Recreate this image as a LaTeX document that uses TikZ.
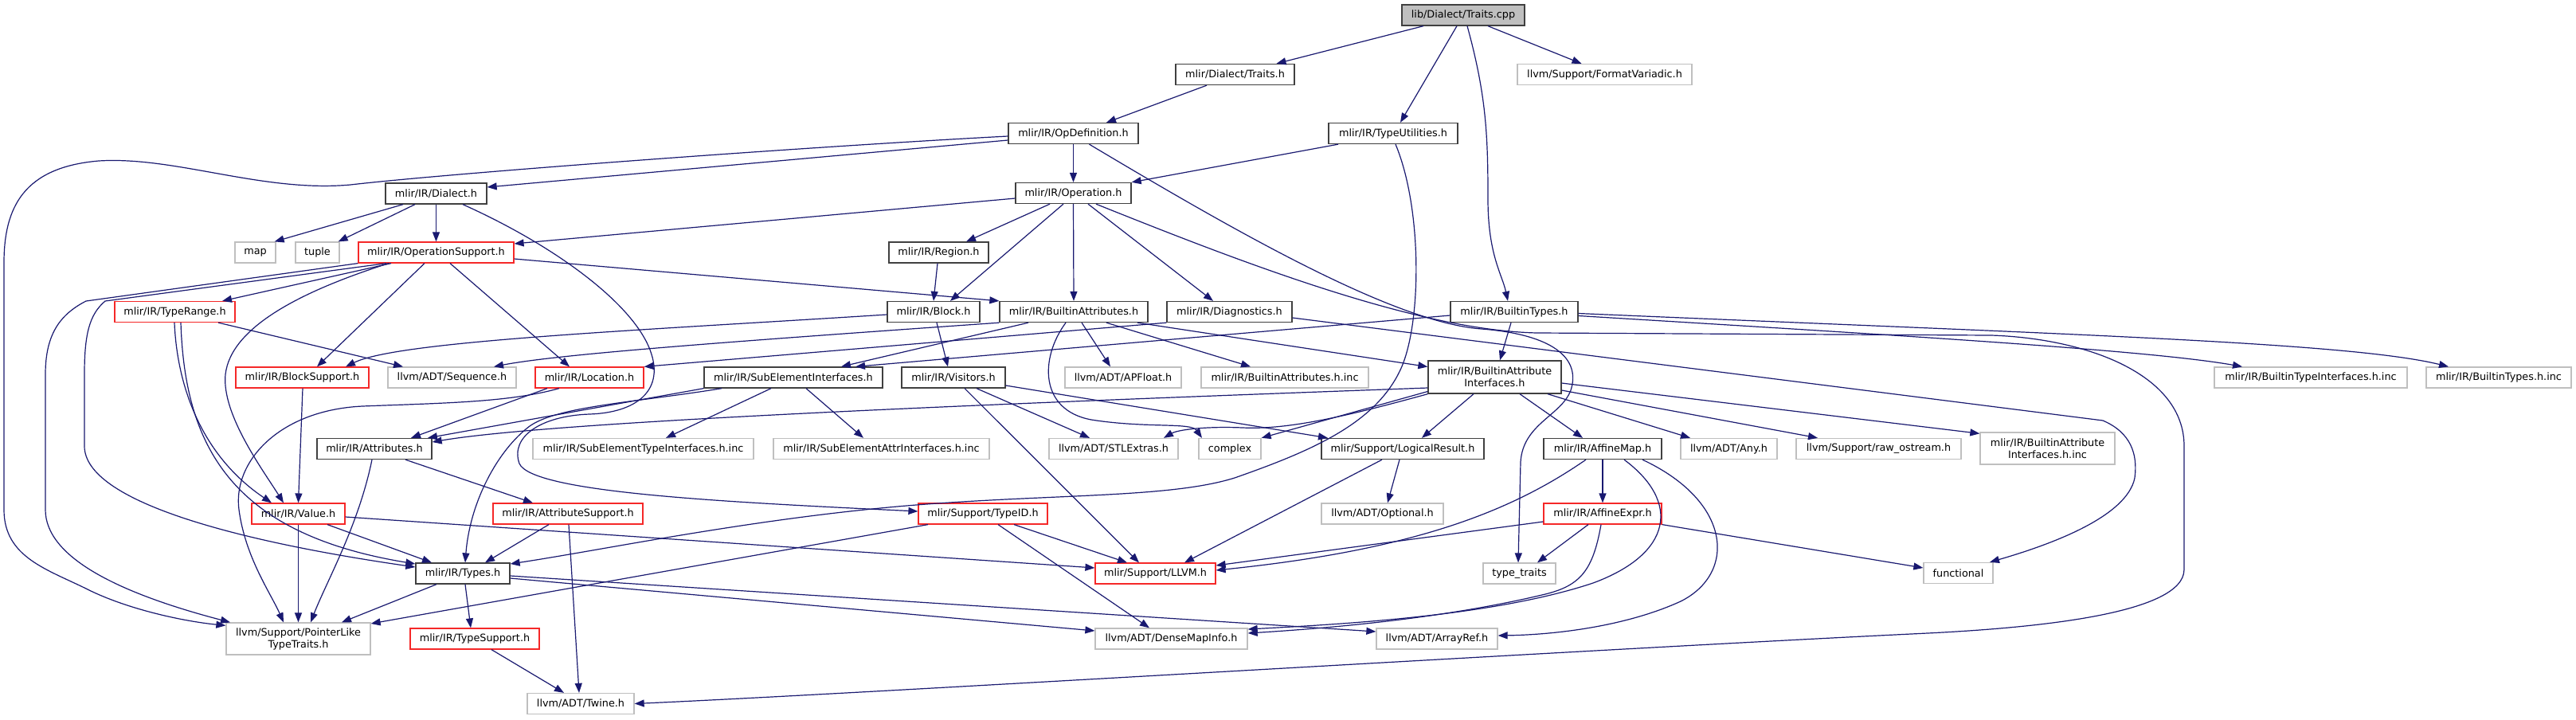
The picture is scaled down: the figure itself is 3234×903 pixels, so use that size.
\documentclass[tikz,border=0pt]{standalone}
\usepackage{fontspec}
\setmainfont{DejaVu Sans}
\usetikzlibrary{arrows.meta}
\definecolor{edgeblue}{RGB}{25,25,112}
\definecolor{sysgray}{RGB}{191,191,191}
\definecolor{boxdark}{RGB}{64,64,64}
\definecolor{boxred}{RGB}{245,40,40}
\begin{document}
\begin{tikzpicture}[
    x=1pt, y=-1pt,
    font=\fontsize{12.8}{15}\selectfont,
    box/.style={rectangle, fill=white, line width=1.3pt, minimum height=26pt, inner sep=0pt, align=center},
    hdr/.style={box, draw=boxdark},
    hdrred/.style={box, draw=boxred, line width=1.2pt},
    sys/.style={box, draw=sysgray},
    root/.style={box, draw=boxdark, fill=sysgray},
    edge/.style={draw=edgeblue, line width=1.2pt, -{Triangle[length=12pt,width=9pt]}}
]

\fill[white] (0,0) rectangle (3234,903);
\useasboundingbox (0,0) rectangle (3234,903);

% Rank 0-2
\node[root, minimum width=154] (cpp) at (1837,19) {lib/Dialect/Traits.cpp};
\node[hdr, minimum width=149] (dtraits) at (1550.5,93.5) {mlir/Dialect/Traits.h};
\node[sys, minimum width=219] (fmtv) at (2014.5,93.5) {llvm/Support/FormatVariadic.h};
\node[hdr, minimum width=163] (opdef) at (1347.5,167.5) {mlir/IR/OpDefinition.h};
\node[hdr, minimum width=162] (tyutil) at (1749,167.5) {mlir/IR/TypeUtilities.h};

% Rank 3-5
\node[hdr, minimum width=127] (dialect) at (547.5,243) {mlir/IR/Dialect.h};
\node[hdr, minimum width=145] (operation) at (1347.5,242.5) {mlir/IR/Operation.h};
\node[sys, minimum width=51] (map) at (320.5,317) {map};
\node[sys, minimum width=55] (tuple) at (398.5,317) {tuple};
\node[hdrred, minimum width=195] (opsupp) at (547.5,317) {mlir/IR/OperationSupport.h};
\node[hdr, minimum width=125] (region) at (1178.5,317) {mlir/IR/Region.h};
\node[hdrred, minimum width=151] (typerange) at (219.5,391.5) {mlir/IR/TypeRange.h};
\node[hdr, minimum width=116] (block) at (1172,391.5) {mlir/IR/Block.h};
\node[hdr, minimum width=186] (battr) at (1348,391.5) {mlir/IR/BuiltinAttributes.h};
\node[hdr, minimum width=157] (diag) at (1543.5,391.5) {mlir/IR/Diagnostics.h};
\node[hdr, minimum width=160] (btypes) at (1901,391.5) {mlir/IR/BuiltinTypes.h};

% Rank 6
\node[hdrred, minimum width=167] (blocksupp) at (379.5,474) {mlir/IR/BlockSupport.h};
\node[sys, minimum width=161] (sequence) at (567.5,474) {llvm/ADT/Sequence.h};
\node[hdrred, minimum width=136] (location) at (740,474) {mlir/IR/Location.h};
\node[hdr, minimum width=224] (subelem) at (996,474) {mlir/IR/SubElementInterfaces.h};
\node[hdr, minimum width=130] (visitors) at (1197,474) {mlir/IR/Visitors.h};
\node[sys, minimum width=146] (apfloat) at (1410,474) {llvm/ADT/APFloat.h};
\node[sys, minimum width=210] (battrinc) at (1613,474) {mlir/IR/BuiltinAttributes.h.inc};
\node[hdr, minimum width=167, minimum height=41] (bai) at (1876.5,473.5) {mlir/IR/BuiltinAttribute\\Interfaces.h};
\node[sys, minimum width=242] (btiinc) at (2901,474) {mlir/IR/BuiltinTypeInterfaces.h.inc};
\node[sys, minimum width=182] (btinc) at (3137,474) {mlir/IR/BuiltinTypes.h.inc};

% Rank 7
\node[hdr, minimum width=144] (attrs) at (470,563.5) {mlir/IR/Attributes.h};
\node[sys, minimum width=277] (subtinc) at (807.5,563.5) {mlir/IR/SubElementTypeInterfaces.h.inc};
\node[sys, minimum width=271] (subainc) at (1106.5,563.5) {mlir/IR/SubElementAttrInterfaces.h.inc};
\node[sys, minimum width=162] (stlextras) at (1398,563.5) {llvm/ADT/STLExtras.h};
\node[sys, minimum width=78] (complex) at (1544,563.5) {complex};
\node[hdr, minimum width=204] (logres) at (1761,563.5) {mlir/Support/LogicalResult.h};
\node[hdr, minimum width=148] (affmap) at (2012,563.5) {mlir/IR/AffineMap.h};
\node[sys, minimum width=121] (any) at (2170.5,563.5) {llvm/ADT/Any.h};
\node[sys, minimum width=207] (rawos) at (2358.5,563.5) {llvm/Support/raw\_ostream.h};
\node[sys, minimum width=169, minimum height=40] (baiinc) at (2570.5,563) {mlir/IR/BuiltinAttribute\\Interfaces.h.inc};

% Rank 8-9
\node[hdrred, minimum width=117] (value) at (374.5,645) {mlir/IR/Value.h};
\node[hdrred, minimum width=188] (attrsupp) at (713,645) {mlir/IR/AttributeSupport.h};
\node[hdrred, minimum width=162] (typeid) at (1234,645) {mlir/Support/TypeID.h};
\node[sys, minimum width=153] (optional) at (1735.5,645) {llvm/ADT/Optional.h};
\node[hdrred, minimum width=148] (affexpr) at (2012,645) {mlir/IR/AffineExpr.h};
\node[hdr, minimum width=118] (types) at (581,720) {mlir/IR/Types.h};
\node[hdrred, minimum width=151] (llvmh) at (1450.5,720) {mlir/Support/LLVM.h};
\node[sys, minimum width=91] (typetraits) at (1907.5,720) {type\_traits};
\node[sys, minimum width=87] (functional) at (2458.5,719.5) {functional};

% Rank 10-11
\node[sys, minimum width=181, minimum height=40] (ptrlike) at (374.5,802) {llvm/Support/PointerLike\\TypeTraits.h};
\node[hdrred, minimum width=162] (typesupp) at (596,802) {mlir/IR/TypeSupport.h};
\node[sys, minimum width=191] (densemap) at (1470.5,802) {llvm/ADT/DenseMapInfo.h};
\node[sys, minimum width=152] (arrayref) at (1804,802) {llvm/ADT/ArrayRef.h};
\node[sys, minimum width=134] (twine) at (729,883.5) {llvm/ADT/Twine.h};

% Traits.cpp
\draw[edge] ([xshift=-50]cpp.south) -- ([xshift=52]dtraits.north);
\draw[edge] ([xshift=-8]cpp.south) -- ([xshift=9]tyutil.north);
\draw[edge] ([xshift=5]cpp.south) .. controls (1866,120) and (1868,170) .. (1868,250) .. controls (1868,320) and (1886,345) .. ([xshift=-8]btypes.north);
\draw[edge] ([xshift=31]cpp.south) -- ([xshift=-29]fmtv.north);
\draw[edge] ([xshift=-35.5]dtraits.south) -- ([xshift=41.5]opdef.north);

% OpDefinition.h
\draw[edge] ([yshift=-8.5]opdef.west) -- ([yshift=8]dialect.east);
\draw[edge] ([yshift=-3.5]opdef.west) .. controls (1000,185) and (560,218) .. (440,232) .. controls (330,242) and (220,196) .. (124,202) .. controls (30,210) and (5,260) .. (5,330) -- (5,640) .. controls (5,700) and (60,715) .. (110,740) .. controls (160,765) and (230,780) .. ([yshift=-4]ptrlike.north west);
\draw[edge] (opdef.south) -- (operation.north);
\draw[edge] ([xshift=20]opdef.south) .. controls (1550,290) and (1750,405) .. (1860,413) .. controls (1950,420) and (1985,450) .. (1972,490) .. controls (1960,522) and (1912,532) .. (1909,580) -- ([xshift=-1.5]typetraits.north);
\draw[edge] ([xshift=-69]tyutil.south) -- (operation.north east);
\draw[edge] ([xshift=3]tyutil.south) .. controls (1785,260) and (1785,400) .. (1760,460) .. controls (1730,530) and (1650,565) .. (1550,600) .. controls (1470,625) and (1330,620) .. (1150,634) .. controls (950,650) and (760,690) .. ([yshift=12]types.east);

% Operation.h
\draw[edge] ([yshift=-6.5]operation.west) -- ([yshift=11]opsupp.east);
\draw[edge] ([xshift=-29.5]operation.south) -- ([xshift=34.5]region.north);
\draw[edge] ([xshift=-12.5]operation.south) -- ([xshift=21]block.north);
\draw[edge] (operation.south) -- (battr.north);
\draw[edge] ([xshift=18.5]operation.south) -- ([xshift=-20.5]diag.north);
\draw[edge] ([xshift=28.5]operation.south) .. controls (1560,330) and (1780,415) .. (1930,418) -- (2500,421) .. controls (2620,425) and (2742,470) .. (2742,560) -- (2742,715) .. controls (2742,770) and (2560,788) .. (2420,795) .. controls (2000,815) and (1100,870) .. (twine.east);

% Dialect.h
\draw[edge] ([xshift=-41.5]dialect.south) -- ([xshift=-2]map.north east);
\draw[edge] ([xshift=-26.5]dialect.south) -- ([xshift=-2]tuple.north east);
\draw[edge] (dialect.south) -- (opsupp.north);
\draw[edge] ([xshift=33.5]dialect.south) .. controls (700,310) and (800,385) .. (818,445) .. controls (832,490) and (800,518) .. (740,520) .. controls (680,522) and (640,548) .. (652,582) .. controls (668,618) and (900,630) .. ([yshift=3]typeid.west);

% OperationSupport.h
\draw[edge] ([xshift=-56.5]opsupp.south) -- ([xshift=59.5]typerange.north);
\draw[edge] ([yshift=-8]opsupp.east) -- (battr.north west);
\draw[edge] ([xshift=-14.5]opsupp.south) -- ([xshift=18.5]blocksupp.north);
\draw[edge] ([xshift=17.5]opsupp.south) -- ([xshift=-25]location.north);
\draw[edge] ([xshift=-59.5]opsupp.south) .. controls (380,365) and (290,410) .. (283,470) .. controls (278,520) and (330,590) .. ([xshift=-18.5]value.north);
\draw[edge] (opsupp.south west) -- (108,378) .. controls (75,395) and (57,420) .. (57,470) -- (57,640) .. controls (57,700) and (150,745) .. ([xshift=-85.5]ptrlike.north);
\draw[edge] ([xshift=-62.5]opsupp.south) -- (132,378) .. controls (112,395) and (106,420) .. (106,470) -- (106,560) .. controls (106,630) and (300,680) .. ([yshift=8]types.west);

% TypeRange.h, Region.h, Block.h
\draw[edge] ([xshift=-0.5]typerange.south) .. controls (222,480) and (250,570) .. ([xshift=-33.5]value.north);
\draw[edge] ([xshift=7.5]typerange.south) .. controls (232,560) and (290,670) .. ([yshift=12]types.west);
\draw[edge] ([xshift=54.5]typerange.south) -- ([xshift=-61.5]sequence.north);
\draw[edge] ([xshift=-1.5]region.south) -- (block.north);
\draw[edge] ([yshift=-3.5]block.west) .. controls (800,415) and (500,428) .. ([xshift=54.5]blocksupp.north);
\draw[edge] ([xshift=4]block.south) -- ([xshift=-7]visitors.north);

% BuiltinAttributes.h
\draw[edge] (battr.south west) .. controls (900,430) and (700,445) .. ([xshift=52.5]sequence.north);
\draw[edge] ([xshift=-57]battr.south) -- ([xshift=60]subelem.north);
\draw[edge] ([xshift=-10]battr.south) .. controls (1305,450) and (1305,515) .. (1370,527) .. controls (1440,538) and (1495,530) .. ([xshift=-35]complex.north);
\draw[edge] ([xshift=10]battr.south) -- ([xshift=-16]apfloat.north);
\draw[edge] ([xshift=41]battr.south) -- ([xshift=-43]battrinc.north);
\draw[edge] ([xshift=80]battr.south) -- ([yshift=13]bai.west);

% Diagnostics.h, BuiltinTypes.h
\draw[edge] (diag.south west) -- (location.north east);
\draw[edge] ([yshift=-7.5]diag.east) -- (2640,528) .. controls (2675,543) and (2684,570) .. (2680,600) .. controls (2670,650) and (2570,685) .. ([xshift=39.5]functional.north);
\draw[edge] ([xshift=-4]btypes.south) -- ([xshift=6.5]bai.north);
\draw[edge] ([yshift=-4.5]btypes.west) -- ([xshift=78]subelem.north);
\draw[edge] ([yshift=-2]btypes.east) .. controls (2600,420) and (2950,430) .. ([xshift=-63]btinc.north);
\draw[edge] ([yshift=-5]btypes.east) .. controls (2400,422) and (2700,440) .. ([xshift=-86]btiinc.north);

% BuiltinAttributeInterfaces.h
\draw[edge] ([yshift=-13.5]bai.west) .. controls (1300,505) and (700,528) .. ([yshift=8.5]attrs.east);
\draw[edge] ([yshift=-18]bai.west) -- (complex.north east);
\draw[edge] (bai.south west) .. controls (1700,520) and (1620,540) .. (1560,537) .. controls (1510,535) and (1478,540) .. ([xshift=63]stlextras.north);
\draw[edge] ([xshift=-26.5]bai.south) -- ([xshift=24]logres.north);
\draw[edge] ([xshift=31.5]bai.south) -- ([xshift=-25]affmap.north);
\draw[edge] ([xshift=66.5]bai.south) -- ([xshift=-48.5]any.north);
\draw[edge] ([yshift=-16.5]bai.east) -- ([xshift=-76.5]rawos.north);
\draw[edge] ([yshift=-7.5]bai.east) -- ([yshift=-2]baiinc.north west);

% Visitors.h, SubElementInterfaces.h
\draw[edge] ([xshift=14]visitors.south) -- ([xshift=-20.5]llvmh.north);
\draw[edge] ([xshift=29]visitors.south) -- ([xshift=-30]stlextras.north);
\draw[edge] ([yshift=-10]visitors.east) -- ([xshift=-94]logres.north);
\draw[edge] (subelem.south west) -- ([xshift=67]attrs.north);
\draw[edge] ([xshift=-90]subelem.south) .. controls (800,505) and (700,510) .. (665,535) .. controls (625,565) and (590,630) .. ([xshift=3]types.north);
\draw[edge] ([xshift=-28]subelem.south) -- ([xshift=28.5]subtinc.north);
\draw[edge] ([xshift=16]subelem.south) -- ([xshift=-22.5]subainc.north);

% Location.h, Attributes.h, BlockSupport.h
\draw[edge] ([xshift=-53]location.south) -- ([xshift=46]attrs.north);
\draw[edge] ([xshift=-38]location.south) .. controls (640,505) and (560,506) .. (455,510) .. controls (350,515) and (292,580) .. (300,640) .. controls (308,700) and (340,745) .. ([xshift=-18.5]ptrlike.north);
\draw[edge] ([xshift=39]attrs.south) -- ([xshift=-44]attrsupp.north);
\draw[edge] ([xshift=-3]attrs.south) .. controls (450,660) and (410,730) .. ([xshift=15.5]ptrlike.north);
\draw[edge] ([xshift=0.5]blocksupp.south) -- (value.north);

% Value.h, AttributeSupport.h
\draw[edge] (value.south) -- (ptrlike.north);
\draw[edge] ([xshift=36.5]value.south) -- ([xshift=-39]types.north);
\draw[edge] ([yshift=-4]value.east) -- ([yshift=7]llvmh.west);
\draw[edge] ([xshift=-24]attrsupp.south) -- ([xshift=28]types.north);
\draw[edge] ([xshift=1]attrsupp.south) -- ([xshift=-2]twine.north);

% Types.h, TypeSupport.h, TypeID.h
\draw[edge] ([xshift=-33]types.south) -- ([xshift=54.5]ptrlike.north);
\draw[edge] ([xshift=3]types.south) -- ([xshift=-5]typesupp.north);
\draw[edge] ([yshift=-6]types.east) -- ([yshift=10]densemap.west);
\draw[edge] ([yshift=-3]types.east) -- ([yshift=9]arrayref.west);
\draw[edge] ([xshift=21]typesupp.south) -- ([xshift=-21]twine.north);
\draw[edge] ([xshift=-69]typeid.south) -- ([yshift=19]ptrlike.east);
\draw[edge] ([xshift=39]typeid.south) -- ([xshift=-35.5]llvmh.north);
\draw[edge] ([xshift=19]typeid.south) -- ([xshift=-27.5]densemap.north);

% LogicalResult.h, AffineMap.h, AffineExpr.h
\draw[edge] ([xshift=-26]logres.south) -- ([xshift=36.5]llvmh.north);
\draw[edge] ([xshift=-4]logres.south) -- ([xshift=6.5]optional.north);
\draw[edge] ([xshift=-21]affmap.south) .. controls (1900,640) and (1780,690) .. ([yshift=4]llvmh.east);
\draw[edge] (affmap.south) -- (affexpr.north);
\draw[edge] ([xshift=27]affmap.south) .. controls (2110,630) and (2100,695) .. (2000,732) .. controls (1880,772) and (1700,783) .. ([yshift=12]densemap.east);
\draw[edge] ([xshift=50]affmap.south) .. controls (2175,630) and (2180,720) .. (2110,755) .. controls (2040,787) and (1950,797) .. ([yshift=4]arrayref.east);
\draw[edge] ([yshift=-10]affexpr.west) -- ([yshift=10]llvmh.east);
\draw[edge] ([xshift=-18]affexpr.south) -- ([xshift=22.5]typetraits.north);
\draw[edge] ([xshift=-2]affexpr.south) .. controls (2000,715) and (1985,735) .. (1940,746) .. controls (1820,775) and (1680,788) .. ([yshift=7]densemap.east);
\draw[edge] (affexpr.south east) -- ([yshift=6.5]functional.west);

\end{tikzpicture}
\end{document}
